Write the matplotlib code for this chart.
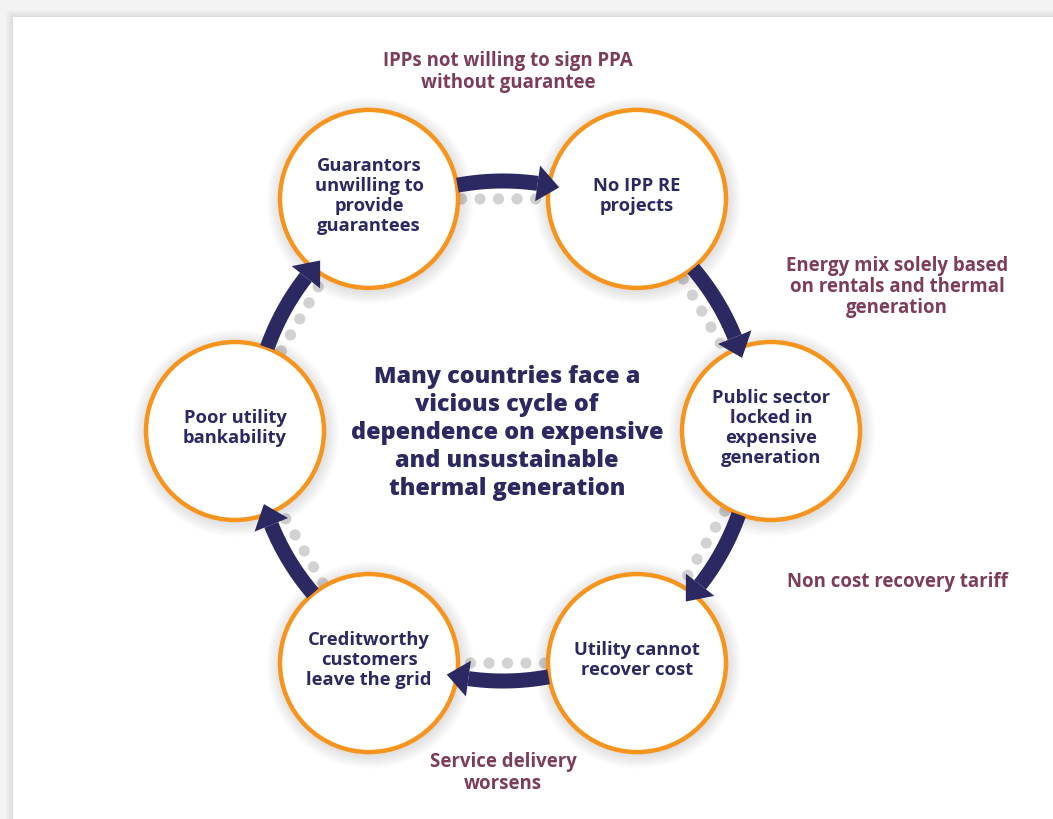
import numpy as np
import matplotlib.pyplot as plt
from matplotlib.patches import Circle, Polygon, Rectangle

# data
node_labels = ["Guarantors\nunwilling to\nprovide\nguarantees",
               "No IPP RE\nprojects",
               "Public sector\nlocked in\nexpensive\ngeneration",
               "Utility cannot\nrecover cost",
               "Creditworthy\ncustomers\nleave the grid",
               "Poor utility\nbankability"]
node_angles = [120, 60, 0, -60, -120, -180]
edge_labels = ["IPPs not willing to sign PPA\nwithout guarantee",
               "Energy mix solely based\non rentals and thermal\ngeneration",
               "Non cost recovery tariff",
               "Service delivery\nworsens"]
center_text = ("Many countries face a\nvicious cycle of\ndependence on expensive\n"
               "and unsustainable\nthermal generation")

# layout
W, H = 1053, 819
cx, cy = 503, 431
ring_r = 268
node_r = 89
arrow_r = 250
edge_pos = [(508, 72), (897, 287), (897, 582), (503, 773)]

navy = "#2b2862"
orange = "#f7941d"
maroon = "#7d3c5a"
dotc = "#d2d2d2"

plt.rcParams['font.family'] = ['Open Sans', 'DejaVu Sans']

fig = plt.figure(figsize=(W / 100, H / 100), dpi=100, facecolor="#f3f3f3")
ax = fig.add_axes([0, 0, 1, 1])
ax.set_xlim(0, W)
ax.set_ylim(H, 0)
ax.set_aspect("equal")
ax.axis("off")

# card with soft shadow
for k in range(8):
    ax.add_patch(Rectangle((13 - k, 17 - k), W, H, facecolor="#000000",
                           alpha=0.012, edgecolor="none", zorder=0))
ax.add_patch(Rectangle((13, 17), W, H, facecolor="white", edgecolor="none", zorder=0.5))


def pt(a, r):
    t = np.radians(a)
    return cx + r * np.cos(t), cy - r * np.sin(t)


centers = [pt(a, ring_r) for a in node_angles]

# dotted links along chords
n = len(centers)
for i in range(n):
    x0, y0 = centers[i]
    x1, y1 = centers[(i + 1) % n]
    d = np.hypot(x1 - x0, y1 - y0)
    steps = np.arange(-d / 2, d / 2, 18.5)
    for s in steps:
        f = 0.5 + s / d
        ax.add_patch(Circle((x0 + f * (x1 - x0), y0 + f * (y1 - y0)), 5.6,
                            facecolor=dotc, edgecolor="none", zorder=1))

# nodes with shadow
for (x, y), lab in zip(centers, node_labels):
    for k in range(10):
        ax.add_patch(Circle((x + 1, y + 2), node_r + 2 + k * 1.4, facecolor="black",
                            alpha=0.012, edgecolor="none", zorder=2))
    ax.add_patch(Circle((x, y), node_r, facecolor="white", edgecolor=orange,
                        linewidth=3.2, zorder=3))
    ax.text(x, y - 3, lab, ha="center", va="center", color=navy, fontsize=13.2,
            fontweight="bold", linespacing=1.16, zorder=5)


# curved arrows
def arc_arrow(a0, a1, shaft=15, head_w=36, head_len=22):
    head_deg = np.degrees(head_len / arrow_r)
    ab = a1 + head_deg if a1 < a0 else a1 - head_deg
    ts = np.linspace(a0, ab, 40)
    outer = [pt(t, arrow_r + shaft / 2) for t in ts]
    inner = [pt(t, arrow_r - shaft / 2) for t in ts[::-1]]
    ax.add_patch(Polygon(outer + inner, closed=True, facecolor=navy,
                         edgecolor="none", zorder=4))
    head = [pt(ab, arrow_r + head_w / 2), pt(a1, arrow_r), pt(ab, arrow_r - head_w / 2)]
    ax.add_patch(Polygon(head, closed=True, facecolor=navy, edgecolor="none", zorder=4))


for i in range(n):
    a_src = node_angles[i]
    a_dst = node_angles[i] - 60
    arc_arrow(a_src - 19.5, a_dst + 17)

# edge labels
for (x, y), lab in zip(edge_pos, edge_labels):
    ax.text(x, y, lab, ha="center", va="center", color=maroon, fontsize=13.4,
            fontweight="bold", linespacing=1.1, zorder=5)

ax.text(cx + 4, cy + 2, center_text, ha="center", va="center", color=navy,
        fontsize=16.8, fontweight="heavy", linespacing=1.22, zorder=5)

fig.savefig("out.png", dpi=100, facecolor=fig.get_facecolor())
